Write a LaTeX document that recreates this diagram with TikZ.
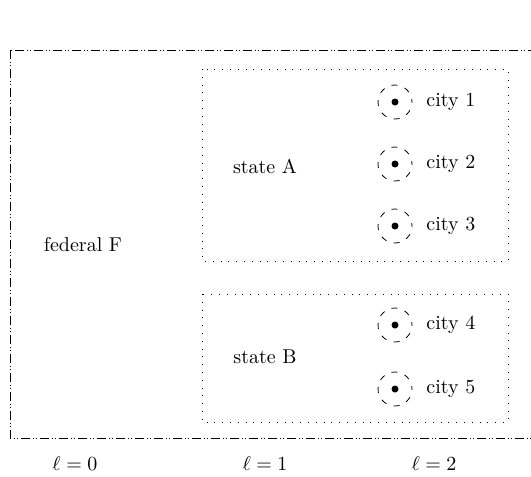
\documentclass[tikz,border=0pt]{standalone}
\begin{document}
\begin{tikzpicture}[x=0.5pt,y=-0.5pt,
  federal/.style={draw,thin,dash pattern=on 4.5pt off 1.4pt on 0.4pt off 1.4pt on 0.4pt off 1.4pt},
  statebox/.style={draw,thin,dash pattern=on 0.4pt off 3.5pt},
  cityring/.style={draw,thin,circle,minimum size=17pt,inner sep=0pt,
    dash pattern=on 3pt off 3.8pt,dash phase=1.5pt},
  citydot/.style={fill,circle,minimum size=3.5pt,inner sep=0pt},
  lbl/.style={inner sep=1pt}]
\useasboundingbox (0,0) rectangle (531,477);
% federal level
\draw[federal] (10,50) coordinate (fTL) rectangle (560,438) coordinate (fBR);
\node[lbl] (fed) at (83,245) {federal F};
% states
\draw[statebox] (202,69) coordinate (aTL) rectangle (508,261) coordinate (aBR);
\node[lbl] (sa) at (265,166) {state A};
\draw[statebox] (202,294) coordinate (bTL) rectangle (508,422) coordinate (bBR);
\node[lbl] (sb) at (265,357) {state B};
% cities
\foreach \n/\y in {1/102,2/164,3/226,4/325,5/389}{
  \node[cityring] (r\n) at (395,\y) {};
  \node[citydot] (d\n) at (r\n.center) {};
  \node[lbl,anchor=west] (c\n) at (424,\y) {city \n};
}
% levels
\node[lbl] (l0) at (75,464) {$\ell=0$};
\node[lbl] (l1) at (265,464) {$\ell=1$};
\node[lbl] (l2) at (434,464) {$\ell=2$};
\end{tikzpicture}
\end{document}
